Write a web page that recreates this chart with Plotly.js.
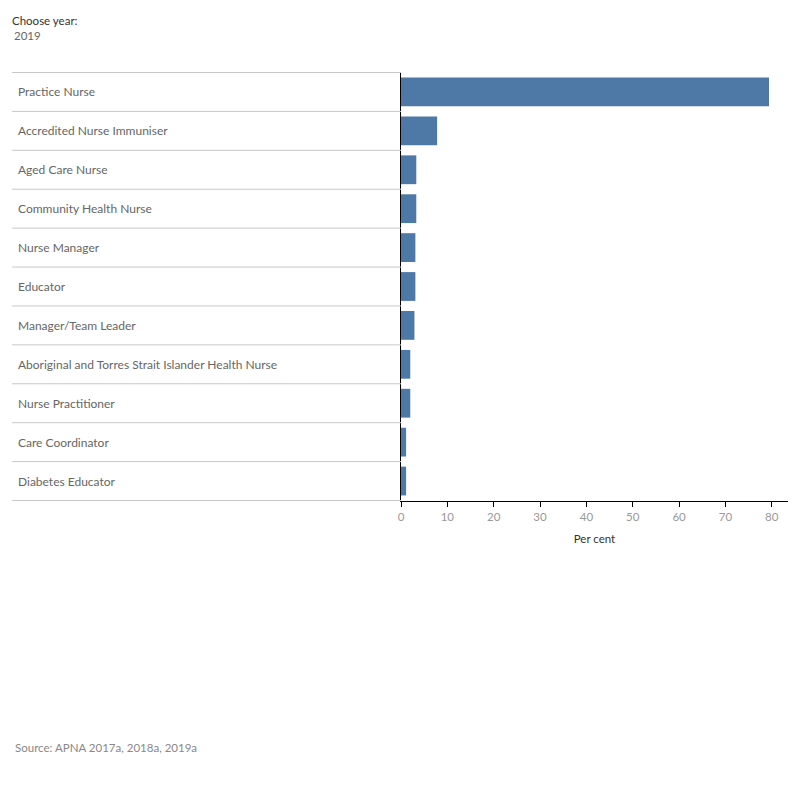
<!DOCTYPE html>
<html>
<head>
<meta charset="utf-8">
<script src="https://cdn.plot.ly/plotly-3.0.1.min.js"></script>
<style>
  html, body { margin: 0; padding: 0; background: #fff; }
  #chart { width: 800px; height: 800px; }
</style>
</head>
<body>
<div id="chart"></div>
<script>
// Nurse roles, 2019 (per cent of respondents)
const roles = [
  "Practice Nurse",
  "Accredited Nurse Immuniser",
  "Aged Care Nurse",
  "Community Health Nurse",
  "Nurse Manager",
  "Educator",
  "Manager/Team Leader",
  "Aboriginal and Torres Strait Islander Health Nurse",
  "Nurse Practitioner",
  "Care Coordinator",
  "Diabetes Educator"
];
const perCent = [79.4, 7.8, 3.3, 3.3, 3.1, 3.1, 2.9, 2.0, 2.0, 1.1, 1.1];
const xTicks = [0, 10, 20, 30, 40, 50, 60, 70, 80];
const year = "2019";

const FONT = "Lato, 'Noto Sans', sans-serif";
const plotLeft = 401, plotRight = 788;
const plotW = plotRight - plotLeft;
const px = p => (p - plotLeft) / plotW; // pixel column -> paper x

const trace = {
  type: "bar",
  orientation: "h",
  x: perCent,
  y: roles,
  width: 0.74,
  marker: { color: "#4e79a7" },
  hoverinfo: "skip"
};

// Row labels on the left, aligned to the start of each row
const annotations = roles.map(r => ({
  xref: "paper", yref: "y",
  x: px(16), y: r,
  xanchor: "left", yanchor: "middle",
  text: r, showarrow: false,
  font: { family: FONT, size: 12, color: "#666" }
}));

// Header and footnote text
annotations.push(
  { xref: "paper", yref: "paper", x: px(10), y: 1 + (72 - 20) / 429, xanchor: "left", yanchor: "middle",
    text: "Choose year:", showarrow: false, font: { family: FONT, size: 11.5, color: "#333" } },
  { xref: "paper", yref: "paper", x: px(12), y: 1 + (72 - 36) / 429, xanchor: "left", yanchor: "middle",
    text: year, showarrow: false, font: { family: FONT, size: 11.5, color: "#666" } },
  { xref: "paper", yref: "paper", x: px(13), y: -(747 - 501) / 429, xanchor: "left", yanchor: "middle",
    text: "Source: APNA 2017a, 2018a, 2019a", showarrow: false, font: { family: FONT, size: 11.5, color: "#888" } }
);

// Row dividers across the label column
const shapes = [];
for (let i = 0; i <= roles.length; i++) {
  shapes.push({
    type: "line", xref: "paper", yref: "y",
    x0: px(12), x1: 0, y0: i - 0.5, y1: i - 0.5,
    line: { color: "#c8c8c8", width: 1 }
  });
}

const layout = {
  width: 800, height: 800,
  margin: { l: plotLeft, r: 800 - plotRight, t: 72, b: 299 },
  paper_bgcolor: "#fff", plot_bgcolor: "#fff",
  showlegend: false,
  font: { family: FONT },
  xaxis: {
    range: [0, 83.5],
    tickvals: xTicks,
    ticks: "outside", ticklen: 5, tickcolor: "#000",
    showline: true, linecolor: "#000", linewidth: 1,
    showgrid: false, zeroline: false,
    tickfont: { family: FONT, size: 11.5, color: "#999" },
    title: { text: "Per cent", font: { family: FONT, size: 11.5, color: "#333" }, standoff: 13 },
    fixedrange: true
  },
  yaxis: {
    type: "category",
    autorange: "reversed",
    showticklabels: false,
    showline: true, linecolor: "#000", linewidth: 1,
    showgrid: false, zeroline: false, ticks: "",
    fixedrange: true
  },
  annotations: annotations,
  shapes: shapes
};

Plotly.newPlot("chart", [trace], layout, { displayModeBar: false, staticPlot: true });
</script>
</body>
</html>
